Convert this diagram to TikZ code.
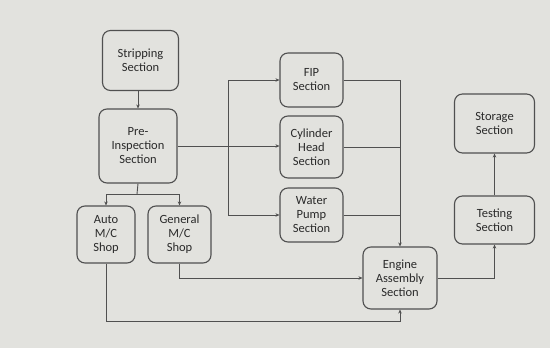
\documentclass[tikz,border=0pt]{standalone}
\usepackage{fontspec}
\setmainfont{Carlito}
\usetikzlibrary{arrows.meta}
\definecolor{bg}{HTML}{E2E2DE}
\definecolor{ln}{HTML}{505050}
\definecolor{tx}{HTML}{2A2A2A}
\begin{document}
\begin{tikzpicture}[x=1pt,y=-1pt,
  box/.style={draw=ln, line width=1.1pt, rounded corners=8pt, align=center, text=tx,
    font=\fontsize{12.5}{14}\selectfont, inner sep=1pt},
  conn/.style={draw=ln, line width=0.9pt},
  arr/.style={conn, -{Stealth[length=4pt,width=3.5pt]}}]
\fill[bg] (0,0) rectangle (550,348);
\useasboundingbox (0,0) rectangle (550,348);
\node[box, minimum width=76, minimum height=60] (strip) at (140.5,60.5) {Stripping\\Section};
\node[box, minimum width=78, minimum height=74] (pre) at (138,146) {Pre-\\Inspection\\Section};
\node[box, minimum width=58, minimum height=57] (auto) at (106,234.5) {Auto\\M/C\\Shop};
\node[box, minimum width=63, minimum height=57] (gen) at (179.5,234.5) {General\\M/C\\Shop};
\node[box, minimum width=63, minimum height=54] (fip) at (311.5,80) {FIP\\Section};
\node[box, minimum width=63, minimum height=62] (cyl) at (311.5,147) {Cylinder\\Head\\Section};
\node[box, minimum width=63, minimum height=54] (water) at (311.5,215) {Water\\Pump\\Section};
\node[box, minimum width=74, minimum height=62] (eng) at (400,278) {Engine\\Assembly\\Section};
\node[box, minimum width=80, minimum height=48] (test) at (494.5,220) {Testing\\Section};
\node[box, minimum width=80, minimum height=59] (stor) at (494.5,123.5) {Storage\\Section};
\coordinate (split) at (137,194);
\coordinate (trunk) at (228,146);
\draw[arr] (strip.south -| pre.north) -- (pre.north);
\draw[conn] (pre.south) -- (split);
\draw[arr] (split) -| (auto.north);
\draw[arr] (split) -| (gen.north);
\draw[arr] (pre.east) -- (pre.east -| cyl.west);
\draw[arr] (trunk) |- (fip.west);
\draw[arr] (trunk) |- (water.west);
\draw[arr] (fip.east) -| (eng.north);
\draw[conn] (cyl.east) -- (cyl.east -| eng.north);
\draw[conn] (water.east) -- (water.east -| eng.north);
\draw[arr] (auto.south) -- (auto.south |- 0,321) -| (eng.south);
\draw[arr] (gen.south) |- (eng.west);
\draw[arr] (eng.east) -| (test.south);
\draw[arr] (test.north) -- (stor.south);
\end{tikzpicture}
\end{document}
